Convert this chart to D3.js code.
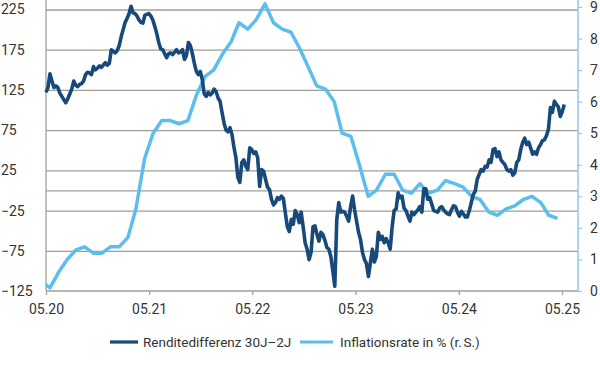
<!DOCTYPE html>
<html>
<head>
<meta charset="utf-8">
<script src="https://cdn.jsdelivr.net/npm/d3@7"></script>
<style>
  body { margin: 0; background: #fff; }
  svg text { font-family: Roboto, "Liberation Sans", sans-serif; fill: #333; }
</style>
</head>
<body>
<script>
// Renditedifferenz 30J-2J in bp, weekly from 2020-05-01
var spreadStart = "2020-05-01";
var spread = [
  122,128,145,136,128,130,128,121,117,113,
  109,114,120,126,136,131,129,132,133,136,
  144,147,146,144,154,150,152,155,153,156,
  159,156,158,175,173,171,174,180,191,200,
  209,214,220,229,221,220,217,212,209,208,
  218,219,220,217,212,204,195,184,176,175,170,
  165,170,171,169,172,175,171,172,175,163,
  168,184,180,170,158,148,144,148,138,120,
  117,122,119,121,126,123,115,111,97,84,
  75,73,78,70,54,41,16,10,35,38,
  30,26,53,51,46,48,41,5,26,24,
  14,4,1,-11,-18,-15,-9,-11,-7,-10,
  -28,-45,-51,-36,-42,-25,-30,-40,-27,-45,
  -65,-73,-86,-77,-45,-44,-55,-63,-52,-55,
  -62,-71,-73,-82,-100,-119,-36,-15,-27,-26,
  -27,-32,-38,-20,-7,-24,-38,-52,-61,-77,-86,
  -91,-107,-90,-73,-89,-82,-52,-61,-57,-65,
  -60,-65,-73,-45,-25,-23,-3,-9,-7,-22,
  -25,-32,-38,-27,-30,-27,-24,-20,-27,2,
  2,-11,-9,-17,-25,-26,-27,-22,-20,-24,
  -27,-29,-30,-24,-19,-20,-27,-32,-26,-29,
  -33,-33,-25,-15,-5,-1,14,20,26,24,
  30,29,38,35,51,52,42,48,38,35,
  32,26,24,26,19,22,35,38,51,60,
  65,57,60,53,45,48,45,53,57,62,
  63,68,76,103,97,111,107,104,92,98,107
];

// Inflationsrate in %, monthly (Apr 2020 - Apr 2025)
var inflStart = "2020-04-15";
var inflation = [
  0.3,0.1,0.6,1.0,1.3,1.4,1.2,1.2,1.4,
  1.4,1.7,2.6,4.2,5.0,5.4,5.4,5.3,5.4,6.2,6.8,7.0,
  7.5,7.9,8.5,8.3,8.6,9.1,8.5,8.3,8.2,7.7,7.1,6.5,
  6.4,6.0,5.0,4.9,4.0,3.0,3.2,3.7,3.7,3.2,3.1,3.4,
  3.1,3.2,3.5,3.4,3.3,3.0,2.9,2.5,2.4,2.6,2.7,2.9,
  3.0,2.8,2.4,2.3
];

var leftTicks = [-125, -75, -25, 25, 75, 125, 175, 225];
var gridValues = [-75, -25, 0, 25, 75, 125, 175, 225];
var rightTicks = [0, 1, 2, 3, 4, 5, 6, 7, 8, 9];
var yearTicks = ["2020-05-01", "2021-05-01", "2022-05-01", "2023-05-01", "2024-05-01", "2025-05-01"];
var legendLabels = ["Renditedifferenz 30J\u20132J", "Inflationsrate in % (r.\u202fS.)"];

var width = 600, height = 380;
var plotLeft = 46, plotRight = 578, plotTop = 0, plotBottom = 291;
var darkBlue = "#17497b", lightBlue = "#5cbeec", gridColor = "#a39e95";

var parse = d3.timeParse("%Y-%m-%d");
var x = d3.scaleTime()
    .domain([parse("2020-05-01"), parse("2025-05-01")])
    .range([plotLeft, 562]);
var yL = d3.scaleLinear().domain([-125, 225]).range([plotBottom, 9.5]);
var yR = d3.scaleLinear().domain([0, 9]).range([plotBottom, 7]);

var spreadData = spread.map(function(v, i) {
    return { date: d3.timeDay.offset(parse(spreadStart), i * 7), value: v };
});
var inflData = inflation.map(function(v, i) {
    return { date: d3.timeMonth.offset(parse(inflStart), i), value: v };
});

var svg = d3.select("body").append("svg")
    .attr("width", width)
    .attr("height", height);

svg.append("clipPath").attr("id", "plotclip")
  .append("rect")
    .attr("x", plotLeft).attr("y", plotTop)
    .attr("width", plotRight - plotLeft).attr("height", plotBottom - plotTop);

// grid lines
svg.append("g")
    .attr("transform", "translate(" + plotLeft + ",0)")
    .call(d3.axisLeft(yL).tickValues(gridValues).tickSize(-(plotRight - plotLeft)).tickFormat(""))
    .call(function(g) { g.select(".domain").remove(); })
    .selectAll("line")
      .attr("stroke", gridColor)
      .attr("stroke-width", 1.3);

// left labels
svg.append("g")
    .call(d3.axisLeft(yL).tickValues(leftTicks).tickSize(0))
    .call(function(g) { g.select(".domain").remove(); })
    .selectAll("text")
      .attr("x", 1)
      .attr("text-anchor", "start")
      .style("font-size", "14px");

// left + bottom axis lines
svg.append("line")
    .attr("x1", plotLeft).attr("x2", plotLeft).attr("y1", plotTop).attr("y2", plotBottom)
    .attr("stroke", gridColor).attr("stroke-width", 1.3);

var xAxis = svg.append("g")
    .attr("transform", "translate(0," + plotBottom + ")")
    .call(d3.axisBottom(x)
        .tickValues(yearTicks.map(parse))
        .tickSize(4)
        .tickPadding(9)
        .tickFormat(d3.timeFormat("%m.%y")));
xAxis.select(".domain").remove();
xAxis.selectAll("line").attr("stroke", gridColor).attr("stroke-width", 1.3);
xAxis.selectAll("text").style("font-size", "14px");

svg.append("line")
    .attr("x1", plotLeft).attr("x2", plotRight).attr("y1", plotBottom).attr("y2", plotBottom)
    .attr("stroke", gridColor).attr("stroke-width", 1.3);

// right axis
var rAxis = svg.append("g")
    .attr("transform", "translate(" + plotRight + ",0)")
    .call(d3.axisRight(yR).tickValues(rightTicks).tickSize(4).tickPadding(8));
rAxis.select(".domain").remove();
rAxis.selectAll("line").attr("stroke", "#8cc8ea").attr("stroke-width", 1.2);
rAxis.selectAll("text").style("font-size", "14px");

svg.append("line")
    .attr("x1", plotRight).attr("x2", plotRight).attr("y1", plotTop).attr("y2", plotBottom)
    .attr("stroke", "#8cc8ea").attr("stroke-width", 1.5);

// series
var lineL = d3.line()
    .x(function(d) { return x(d.date); })
    .y(function(d) { return yL(d.value); });
var lineR = d3.line()
    .x(function(d) { return x(d.date); })
    .y(function(d) { return yR(d.value); });

var plot = svg.append("g").attr("clip-path", "url(#plotclip)");

plot.append("path")
    .datum(inflData)
    .attr("d", lineR)
    .attr("fill", "none")
    .attr("stroke", lightBlue)
    .attr("stroke-width", 3.5)
    .attr("stroke-linejoin", "round");

svg.append("path")
    .datum(spreadData)
    .attr("d", lineL)
    .attr("fill", "none")
    .attr("stroke", darkBlue)
    .attr("stroke-width", 3.6)
    .attr("stroke-linejoin", "round");

// legend
var legend = svg.append("g");
var legendItems = [
    { label: legendLabels[0], color: darkBlue, x1: 110, x2: 138, tx: 143 },
    { label: legendLabels[1], color: lightBlue, x1: 300, x2: 333, tx: 340 }
];
legendItems.forEach(function(d) {
    legend.append("line")
        .attr("x1", d.x1).attr("x2", d.x2)
        .attr("y1", 342).attr("y2", 342)
        .attr("stroke", d.color)
        .attr("stroke-width", 3.2);
    legend.append("text")
        .attr("x", d.tx).attr("y", 342)
        .attr("dy", "0.35em")
        .style("font-size", "13.5px")
        .text(d.label);
});
</script>
</body>
</html>
